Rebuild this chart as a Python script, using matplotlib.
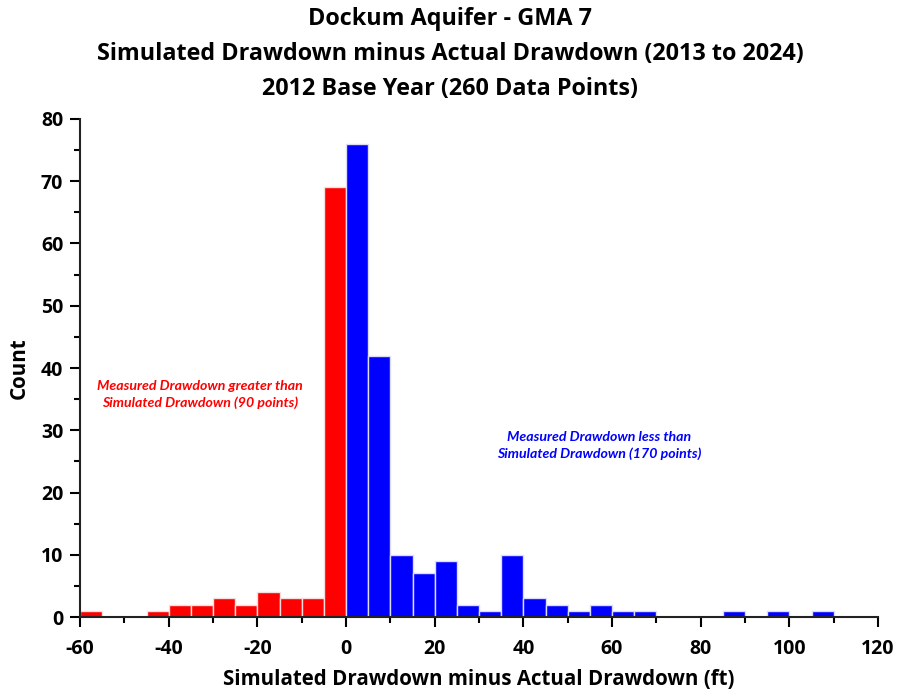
import numpy as np
import matplotlib.pyplot as plt
from matplotlib.ticker import MultipleLocator

# Histogram bins (5 ft wide) and counts
red_edges = list(range(-60, 0, 5))
red_counts = [1, 0, 0, 1, 2, 2, 3, 2, 4, 3, 3, 69]
blue_edges = list(range(0, 110, 5))
blue_counts = [76, 42, 10, 7, 9, 2, 1, 10, 3, 2, 1, 2, 1, 1, 0, 0, 0, 1, 0, 1, 0, 1]
bin_width = 5

plt.rcParams['font.family'] = ['Open Sans', 'DejaVu Sans']
plt.rcParams['axes.unicode_minus'] = False

fig = plt.figure(figsize=(9, 6.95), dpi=100)
ax = fig.add_axes([0.0889, 0.1122, 0.8867, 0.7166])

ax.bar(red_edges, red_counts, width=bin_width, align='edge',
       color='#ff0000', edgecolor='#f4dede', linewidth=1)
ax.bar(blue_edges, blue_counts, width=bin_width, align='edge',
       color='#0000ff', edgecolor='#dcdcf4', linewidth=1)

ax.set_xlim(-60, 120)
ax.set_ylim(0, 80)
ax.xaxis.set_major_locator(MultipleLocator(20))
ax.xaxis.set_minor_locator(MultipleLocator(10))
ax.yaxis.set_major_locator(MultipleLocator(10))
ax.yaxis.set_minor_locator(MultipleLocator(5))
ax.tick_params(which='major', direction='out', length=7, width=1.5, labelsize=14)
ax.tick_params(which='minor', direction='out', length=4, width=1.5)
ax.tick_params(axis='x', which='major', pad=9)
ax.tick_params(axis='y', which='major', pad=5)
for lbl in ax.get_xticklabels() + ax.get_yticklabels():
    lbl.set_fontweight('bold')

for s in ['top', 'right']:
    ax.spines[s].set_visible(False)
for s in ['left', 'bottom']:
    ax.spines[s].set_linewidth(1.5)
    ax.spines[s].set_color('#222222')

ax.set_xlabel('Simulated Drawdown minus Actual Drawdown (ft)', fontsize=14.8,
              fontweight='bold', labelpad=7)
ax.set_ylabel('Count', fontsize=14.8, fontweight='bold', labelpad=8)

fig.suptitle('Dockum Aquifer - GMA 7\n'
             'Simulated Drawdown minus Actual Drawdown (2013 to 2024)\n'
             '2012 Base Year (260 Data Points)',
             fontsize=16.8, fontweight='bold', y=0.99, linespacing=1.6)

ax.text(-33, 35.7, 'Measured Drawdown greater than\nSimulated Drawdown (90 points)',
        color='#ff0000', fontsize=10.2, fontweight='bold', style='italic',
        family=['Lato', 'DejaVu Sans'],
        ha='center', va='center', linespacing=1.45)
ax.text(57, 27.6, 'Measured Drawdown less than\nSimulated Drawdown (170 points)',
        color='#0000ff', fontsize=10.2, fontweight='bold', style='italic',
        family=['Lato', 'DejaVu Sans'],
        ha='center', va='center', linespacing=1.45)

fig.savefig('out.png', dpi=100)
